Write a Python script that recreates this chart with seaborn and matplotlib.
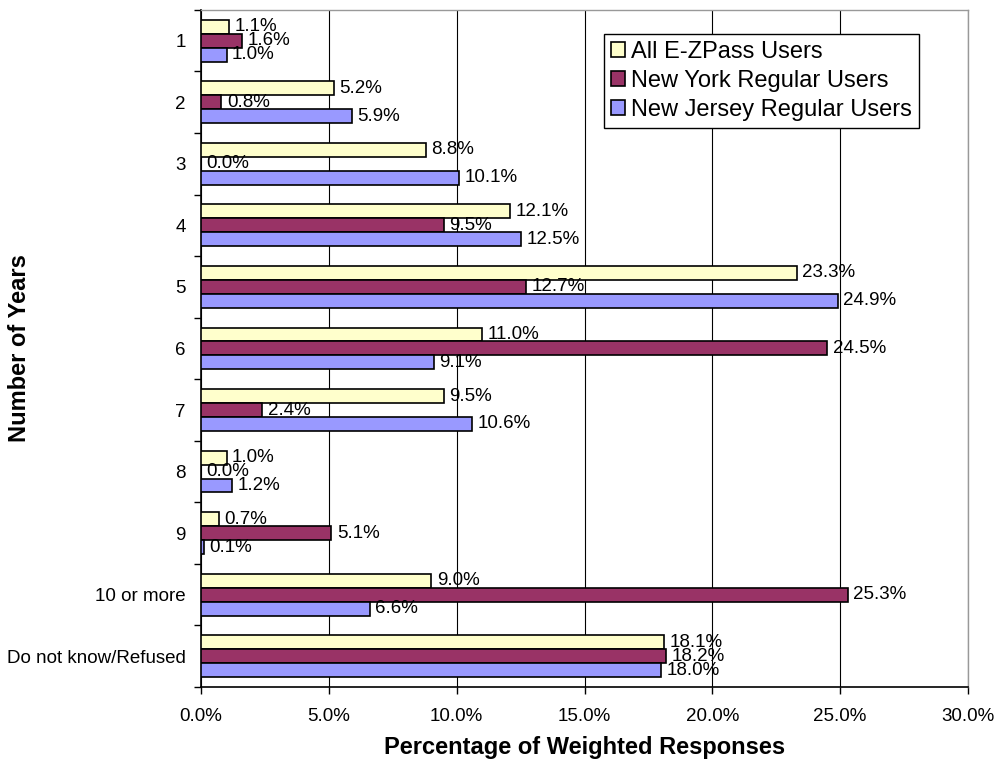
import numpy as np
import pandas as pd
import seaborn as sns
import matplotlib.pyplot as plt
from matplotlib.ticker import FixedLocator, PercentFormatter

# data (percent of weighted responses)
categories = ['1', '2', '3', '4', '5', '6', '7', '8', '9', '10 or more', 'Do not know/Refused']
series_names = ['All E-ZPass Users', 'New York Regular Users', 'New Jersey Regular Users']
all_users = [1.1, 5.2, 8.8, 12.1, 23.3, 11.0, 9.5, 1.0, 0.7, 9.0, 18.1]
ny_users = [1.6, 0.8, 0.0, 9.5, 12.7, 24.5, 2.4, 0.0, 5.1, 25.3, 18.2]
nj_users = [1.0, 5.9, 10.1, 12.5, 24.9, 9.1, 10.6, 1.2, 0.1, 6.6, 18.0]
x_ticks = [0, 5, 10, 15, 20, 25, 30]

colors = ['#FFFFCC', '#993366', '#9999FF']

df = pd.DataFrame({
    'category': categories * 3,
    'series': np.repeat(series_names, len(categories)),
    'value': all_users + ny_users + nj_users,
})

sns.set_style('white')
plt.rcParams['font.family'] = ['Liberation Sans', 'DejaVu Sans']
plt.rcParams['text.color'] = 'black'
plt.rcParams['axes.labelcolor'] = 'black'
plt.rcParams['xtick.color'] = 'black'
plt.rcParams['ytick.color'] = 'black'

fig = plt.figure(figsize=(10, 7.65), dpi=100)
ax = fig.add_axes([0.201, 0.102, 0.767, 0.885])

sns.barplot(data=df, y='category', x='value', hue='series', order=categories,
            hue_order=series_names, palette=colors, saturation=1, orient='h',
            width=0.68, gap=0, edgecolor='black', linewidth=1.2, errorbar=None,
            ax=ax, zorder=3)

# value labels
for container in ax.containers:
    ax.bar_label(container, labels=[f'{v:.1f}%' for v in container.datavalues],
                 padding=4, fontsize=13.5, color='black', zorder=4)

ax.set_xlim(0, 30)
ax.set_ylim(len(categories) - 0.5, -0.5)
ax.xaxis.set_major_locator(FixedLocator(x_ticks))
ax.xaxis.set_major_formatter(PercentFormatter(decimals=1))
ax.grid(axis='x', color='black', linewidth=0.8, zorder=0)
ax.grid(axis='y', visible=False)

# ticks between categories on y, outward ticks on x
ax.yaxis.set_minor_locator(FixedLocator(np.arange(-0.5, len(categories), 1)))
ax.tick_params(axis='y', which='major', length=0, pad=11, labelsize=13.5)
ax.tick_params(axis='y', which='minor', length=5, width=1, direction='out', left=True)
ax.tick_params(axis='x', which='major', length=5, width=1, direction='out', bottom=True,
               pad=10, labelsize=13.5)

for side in ['left', 'bottom']:
    ax.spines[side].set_color('black')
    ax.spines[side].set_linewidth(1.2)
for side in ['top', 'right']:
    ax.spines[side].set_color('#999999')
    ax.spines[side].set_linewidth(1)

ax.set_xlabel('Percentage of Weighted Responses', fontsize=17, fontweight='bold', labelpad=8)
ax.set_ylabel('Number of Years', fontsize=17, fontweight='bold')
ax.yaxis.set_label_coords(-0.222, 0.5)

leg = ax.legend(loc='upper left', bbox_to_anchor=(0.5254, 0.9645), fontsize=17,
                frameon=True, fancybox=False, edgecolor='black', framealpha=1,
                handlelength=0.6, handleheight=0.6, handletextpad=0.25,
                borderpad=0.3, labelspacing=0.3, borderaxespad=0)
leg.get_frame().set_linewidth(1)

fig.savefig('out.png', dpi=100)
